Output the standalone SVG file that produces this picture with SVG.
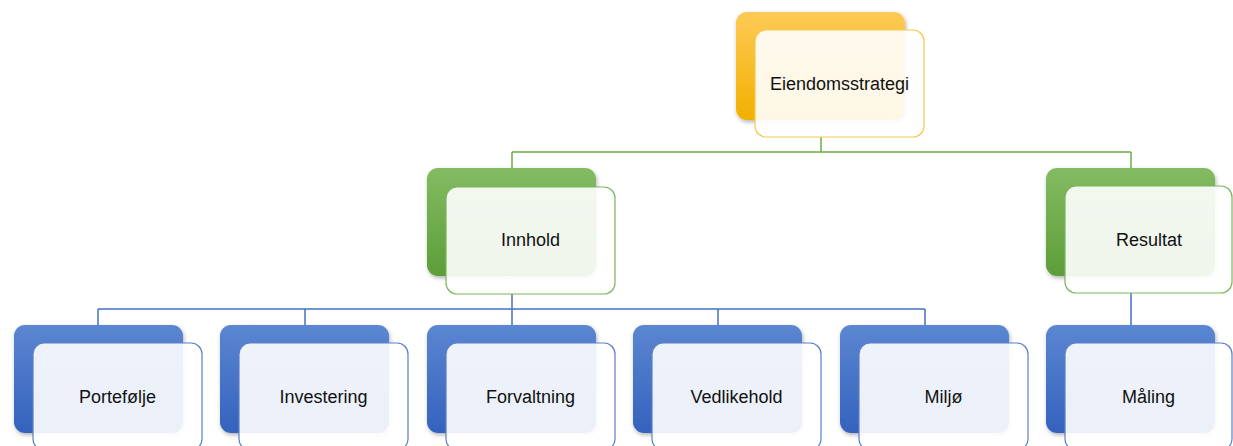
<svg xmlns="http://www.w3.org/2000/svg" width="1233" height="446" viewBox="0 0 1233 446">
  <style>
    .lbl { font-family: "Liberation Sans", Arial, sans-serif; font-size: 18px; fill: #111; text-anchor: middle; dominant-baseline: central; }
    .front { fill: #ffffff; fill-opacity: 0.9; stroke-width: 1.2; }
    .fy { stroke: #f2c94c; }
    .fg { stroke: #7ab55a; }
    .fb { stroke: #5b7fc9; }
    .cg { stroke: #70ad47; stroke-width: 1.5; fill: none; }
    .cb { stroke: #4472c4; stroke-width: 1.5; fill: none; }
  </style>
  <defs>
    <linearGradient id="gy" x1="0" y1="0" x2="0" y2="1">
      <stop offset="0" stop-color="#fdca55"/>
      <stop offset="1" stop-color="#f2b000"/>
    </linearGradient>
    <linearGradient id="gg" x1="0" y1="0" x2="0" y2="1">
      <stop offset="0" stop-color="#83bb62"/>
      <stop offset="1" stop-color="#5d9d38"/>
    </linearGradient>
    <linearGradient id="gb" x1="0" y1="0" x2="0" y2="1">
      <stop offset="0" stop-color="#5b86d1"/>
      <stop offset="1" stop-color="#3462bd"/>
    </linearGradient>
    <filter id="sh" x="-10%" y="-10%" width="125%" height="130%">
      <feDropShadow dx="1" dy="2" stdDeviation="2" flood-color="#000" flood-opacity="0.3"/>
    </filter>
  </defs>
  <rect width="1233" height="446" fill="#ffffff"/>

  <g id="connectors">
    <path class="cg" d="M821 137 V152 M512 152 H1131 M512 152 V187 M1131 152 V187"/>
    <path class="cb" d="M512 294 V309 M98 309 H925 M98 309 V325 M305 309 V325 M512 309 V325 M718 309 V325 M925 309 V325"/>
    <path class="cb" d="M1131 293 V325"/>
  </g>

  <g id="node-eiendomsstrategi">
    <rect x="736" y="12" width="169" height="108" rx="11" fill="url(#gy)" filter="url(#sh)"/>
    <rect class="front fy" x="755" y="30" width="169" height="107" rx="11"/>
    <text class="lbl" x="839.5" y="84">Eiendomsstrategi</text>
  </g>

  <g id="node-innhold">
    <rect x="427" y="168" width="169" height="108" rx="11" fill="url(#gg)" filter="url(#sh)"/>
    <rect class="front fg" x="446" y="187" width="169" height="107" rx="11"/>
    <text class="lbl" x="530.5" y="240">Innhold</text>
  </g>

  <g id="node-resultat">
    <rect x="1046" y="168" width="169" height="108" rx="11" fill="url(#gg)" filter="url(#sh)"/>
    <rect class="front fg" x="1065" y="186" width="167" height="107" rx="11"/>
    <text class="lbl" x="1149" y="240">Resultat</text>
  </g>

  <g id="node-portefolje">
    <rect x="14" y="325" width="169" height="108" rx="11" fill="url(#gb)" filter="url(#sh)"/>
    <rect class="front fb" x="33" y="343" width="169" height="107" rx="11"/>
    <text class="lbl" x="117.5" y="397">Portefølje</text>
  </g>

  <g id="node-investering">
    <rect x="220" y="325" width="169" height="108" rx="11" fill="url(#gb)" filter="url(#sh)"/>
    <rect class="front fb" x="239" y="343" width="169" height="107" rx="11"/>
    <text class="lbl" x="323.5" y="397">Investering</text>
  </g>

  <g id="node-forvaltning">
    <rect x="427" y="325" width="169" height="108" rx="11" fill="url(#gb)" filter="url(#sh)"/>
    <rect class="front fb" x="446" y="343" width="169" height="107" rx="11"/>
    <text class="lbl" x="530.5" y="397">Forvaltning</text>
  </g>

  <g id="node-vedlikehold">
    <rect x="633" y="325" width="169" height="108" rx="11" fill="url(#gb)" filter="url(#sh)"/>
    <rect class="front fb" x="652" y="343" width="169" height="107" rx="11"/>
    <text class="lbl" x="736.5" y="397">Vedlikehold</text>
  </g>

  <g id="node-miljo">
    <rect x="840" y="325" width="169" height="108" rx="11" fill="url(#gb)" filter="url(#sh)"/>
    <rect class="front fb" x="859" y="343" width="169" height="107" rx="11"/>
    <text class="lbl" x="943.5" y="397">Miljø</text>
  </g>

  <g id="node-maling">
    <rect x="1046" y="325" width="169" height="108" rx="11" fill="url(#gb)" filter="url(#sh)"/>
    <rect class="front fb" x="1065" y="343" width="167" height="107" rx="11"/>
    <text class="lbl" x="1148.5" y="397">Måling</text>
  </g>
</svg>
